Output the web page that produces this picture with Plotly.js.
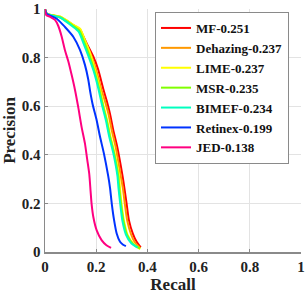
<!DOCTYPE html>
<html>
<head>
<meta charset="utf-8">
<script src="https://cdn.plot.ly/plotly-3.0.1.min.js"></script>
<style>html,body{margin:0;padding:0;background:#fff;}#chart{width:306px;height:296px;}</style>
</head>
<body>
<div id="chart"></div>
<script>
const seriesNames = ["MF-0.251","Dehazing-0.237","LIME-0.237","MSR-0.235","BIMEF-0.234","Retinex-0.199","JED-0.138"];
const seriesColors = ["#ff0000","#ff9900","#ffff00","#80ff00","#00ffbf","#0033ff","#ff0080"];

const mfRecall = [0,0.007,0.059,0.111,0.137,0.163,0.189,0.208,0.228,0.241,0.254,0.267,0.282,0.303,0.310,0.319,0.328,0.343,0.358,0.374];
const mfPrecision = [1,0.98,0.966,0.932,0.912,0.858,0.804,0.75,0.67,0.622,0.568,0.5,0.433,0.312,0.264,0.197,0.130,0.076,0.042,0.019];

const dehazingRecall = [0,0.007,0.059,0.111,0.137,0.158,0.180,0.200,0.220,0.234,0.248,0.261,0.276,0.296,0.304,0.312,0.321,0.336,0.352,0.372];
const dehazingPrecision = [1,0.98,0.968,0.934,0.916,0.865,0.81,0.75,0.67,0.622,0.568,0.5,0.433,0.312,0.264,0.197,0.13,0.073,0.038,0.016];

const limeRecall = [0,0.007,0.059,0.111,0.137,0.156,0.176,0.195,0.215,0.227,0.243,0.256,0.272,0.289,0.293,0.299,0.308,0.323,0.346,0.372];
const limePrecision = [1,0.98,0.969,0.935,0.919,0.871,0.818,0.75,0.67,0.608,0.541,0.474,0.406,0.312,0.264,0.197,0.13,0.069,0.032,0.012];

const msrRecall = [0,0.007,0.059,0.111,0.135,0.153,0.173,0.193,0.212,0.225,0.241,0.254,0.270,0.286,0.290,0.297,0.306,0.321,0.345,0.371];
const msrPrecision = [1,0.98,0.966,0.93,0.91,0.865,0.81,0.745,0.67,0.608,0.541,0.474,0.406,0.312,0.264,0.197,0.13,0.069,0.032,0.015];

const bimefRecall = [0,0.007,0.059,0.108,0.132,0.150,0.170,0.190,0.209,0.222,0.238,0.251,0.267,0.283,0.287,0.294,0.302,0.316,0.337,0.362];
const bimefPrecision = [1,0.98,0.965,0.928,0.906,0.86,0.805,0.745,0.67,0.608,0.541,0.474,0.406,0.312,0.264,0.197,0.13,0.072,0.036,0.018];

const retinexRecall = [0,0.007,0.046,0.078,0.111,0.137,0.156,0.169,0.176,0.186,0.202,0.215,0.230,0.247,0.254,0.261,0.270,0.280,0.293,0.305,0.316];
const retinexPrecision = [1,0.98,0.96,0.926,0.885,0.831,0.770,0.710,0.663,0.608,0.541,0.474,0.406,0.312,0.264,0.197,0.130,0.076,0.042,0.03,0.024];

const jedRecall = [0,0.005,0.02,0.039,0.052,0.065,0.078,0.091,0.104,0.117,0.130,0.143,0.156,0.165,0.173,0.178,0.182,0.189,0.202,0.221,0.240,0.258];
const jedPrecision = [1,0.975,0.968,0.955,0.93,0.887,0.83,0.785,0.729,0.668,0.595,0.514,0.447,0.38,0.32,0.251,0.198,0.143,0.089,0.049,0.028,0.017];

const xTicks = [0,0.2,0.4,0.6,0.8,1];
const yTicks = [0,0.2,0.4,0.6,0.8,1];
const xTickLabels = ["0","0.2","0.4","0.6","0.8","1"];
const yTickLabels = ["0","0.2","0.4","0.6","0.8","1"];

const allRecall = [mfRecall,dehazingRecall,limeRecall,msrRecall,bimefRecall,retinexRecall,jedRecall];
const allPrecision = [mfPrecision,dehazingPrecision,limePrecision,msrPrecision,bimefPrecision,retinexPrecision,jedPrecision];

const serif = "Liberation Serif, Times New Roman, serif";
const traces = seriesNames.map((n,i)=>({
  x: allRecall[i], y: allPrecision[i], name: n, type: "scatter", mode: "lines",
  line: {color: seriesColors[i], width: 2, shape: "spline", smoothing: 0.6}
}));

function axisCommon() {
  return {
    showgrid: true, gridcolor: "#e3e3e3", gridwidth: 1,
    showline: true, linecolor: "#8a8a8a", linewidth: 1.5,
    ticks: "inside", ticklen: 3, tickcolor: "#8a8a8a",
    zeroline: false, ticklabeloverflow: "allow",
    tickfont: {family: serif, size: 15, color: "#222", weight: "bold"}
  };
}

const layout = {
  width: 306, height: 296,
  margin: {l: 45, r: 5, t: 9, b: 44},
  paper_bgcolor: "#fff", plot_bgcolor: "#fff",
  xaxis: Object.assign(axisCommon(), {range: [0,1], tickvals: xTicks, ticktext: xTickLabels,
    title: {text: "<b>Recall</b>", font: {family: serif, size: 17, color: "#222"}, standoff: 4}}),
  yaxis: Object.assign(axisCommon(), {range: [0,1], tickvals: yTicks, ticktext: yTickLabels,
    title: {text: "<b>Precision</b>", font: {family: serif, size: 17, color: "#222"}, standoff: 4}}),
  showlegend: true,
  legend: {x: (289-45)/256, xanchor: "right", y: (252-12)/243, yanchor: "top",
    font: {family: serif, size: 13, color: "#111", weight: "bold"},
    bordercolor: "#8a8a8a", borderwidth: 1, bgcolor: "#fff", itemwidth: 30, tracegroupgap: 0}
};

Plotly.newPlot("chart", traces, layout, {displayModeBar: false, staticPlot: true});
</script>
</body>
</html>
